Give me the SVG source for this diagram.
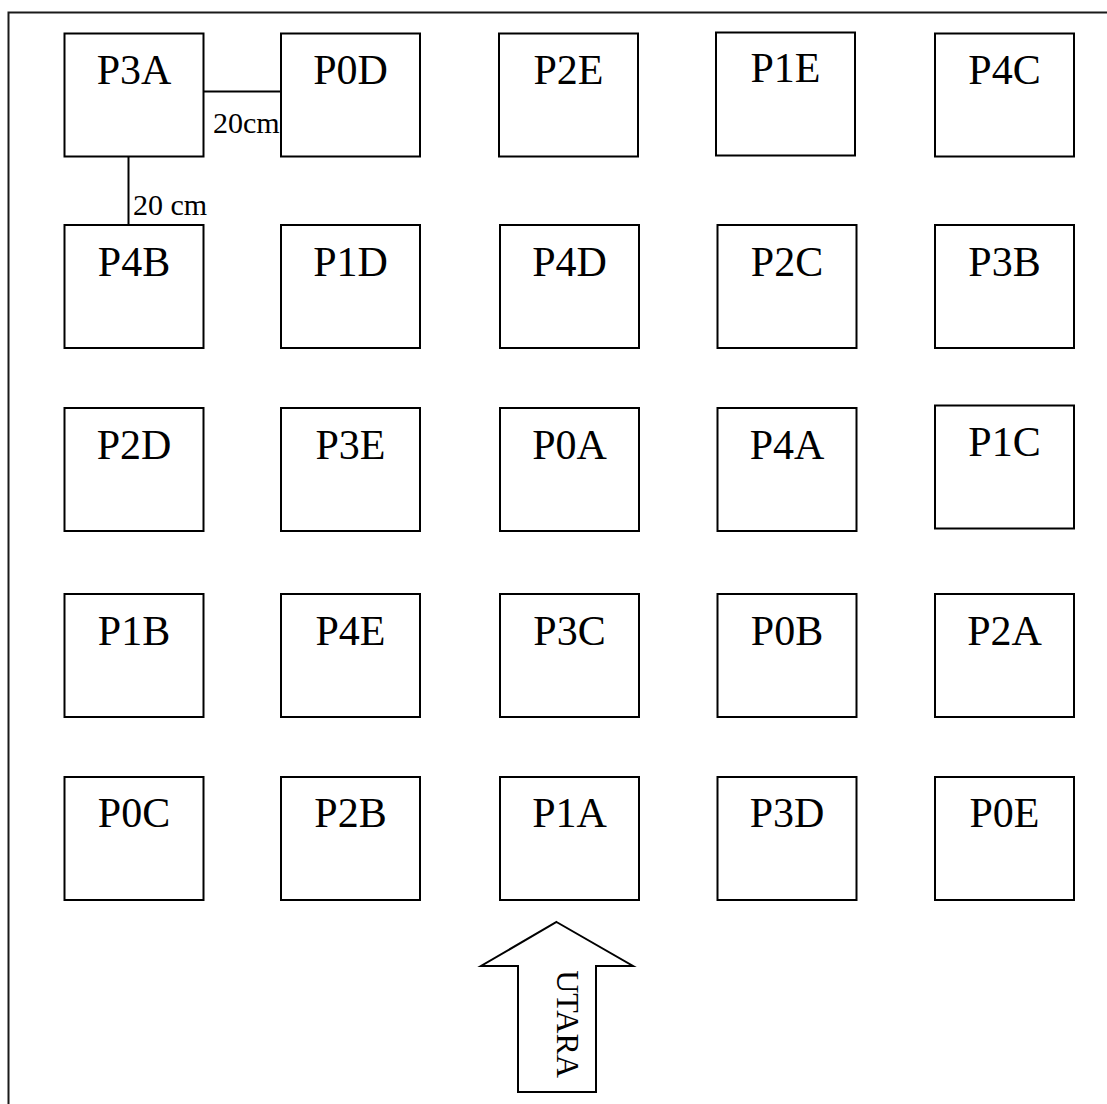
<svg xmlns="http://www.w3.org/2000/svg" width="1107" height="1104" viewBox="0 0 1107 1104">
<style>
.box{fill:#fff;stroke:#000;stroke-width:2}
.lbl{font-family:"Liberation Serif","Times New Roman",serif;font-size:42px;fill:#000;text-anchor:middle}
.dim{font-family:"Liberation Serif","Times New Roman",serif;font-size:30px;fill:#000}
.conn{stroke:#000;stroke-width:2;fill:none}
</style>
<rect x="0" y="0" width="1107" height="1104" fill="#fff"/>
<rect x="8.5" y="12.5" width="1110" height="1110" fill="none" stroke="#1a1a1a" stroke-width="2"/>
<g id="nodes">
<g id="P3A"><rect class="box" x="64.5" y="33.5" width="139" height="123"/><text class="lbl" x="134" y="83.5">P3A</text></g>
<g id="P0D"><rect class="box" x="281" y="33.5" width="139" height="123"/><text class="lbl" x="350.5" y="83.5">P0D</text></g>
<g id="P2E"><rect class="box" x="499" y="33.5" width="139" height="123"/><text class="lbl" x="568.5" y="83.5">P2E</text></g>
<g id="P1E"><rect class="box" x="716" y="32.5" width="139" height="123"/><text class="lbl" x="785.5" y="81.5">P1E</text></g>
<g id="P4C"><rect class="box" x="935" y="33.5" width="139" height="123"/><text class="lbl" x="1004.5" y="84">P4C</text></g>

<g id="P4B"><rect class="box" x="64.5" y="225" width="139" height="123"/><text class="lbl" x="134" y="276">P4B</text></g>
<g id="P1D"><rect class="box" x="281" y="225" width="139" height="123"/><text class="lbl" x="350.5" y="276">P1D</text></g>
<g id="P4D"><rect class="box" x="500" y="225" width="139" height="123"/><text class="lbl" x="569.5" y="276">P4D</text></g>
<g id="P2C"><rect class="box" x="717.5" y="225" width="139" height="123"/><text class="lbl" x="787" y="276">P2C</text></g>
<g id="P3B"><rect class="box" x="935" y="225" width="139" height="123"/><text class="lbl" x="1004.5" y="276">P3B</text></g>

<g id="P2D"><rect class="box" x="64.5" y="408" width="139" height="123"/><text class="lbl" x="134" y="459">P2D</text></g>
<g id="P3E"><rect class="box" x="281" y="408" width="139" height="123"/><text class="lbl" x="350.5" y="459">P3E</text></g>
<g id="P0A"><rect class="box" x="500" y="408" width="139" height="123"/><text class="lbl" x="569.5" y="459">P0A</text></g>
<g id="P4A"><rect class="box" x="717.5" y="408" width="139" height="123"/><text class="lbl" x="787" y="459">P4A</text></g>
<g id="P1C"><rect class="box" x="935" y="405.5" width="139" height="123"/><text class="lbl" x="1004.5" y="456">P1C</text></g>

<g id="P1B"><rect class="box" x="64.5" y="594" width="139" height="123"/><text class="lbl" x="134" y="645">P1B</text></g>
<g id="P4E"><rect class="box" x="281" y="594" width="139" height="123"/><text class="lbl" x="350.5" y="645">P4E</text></g>
<g id="P3C"><rect class="box" x="500" y="594" width="139" height="123"/><text class="lbl" x="569.5" y="645">P3C</text></g>
<g id="P0B"><rect class="box" x="717.5" y="594" width="139" height="123"/><text class="lbl" x="787" y="645">P0B</text></g>
<g id="P2A"><rect class="box" x="935" y="594" width="139" height="123"/><text class="lbl" x="1004.5" y="645">P2A</text></g>

<g id="P0C"><rect class="box" x="64.5" y="777" width="139" height="123"/><text class="lbl" x="134" y="827">P0C</text></g>
<g id="P2B"><rect class="box" x="281" y="777" width="139" height="123"/><text class="lbl" x="350.5" y="827">P2B</text></g>
<g id="P1A"><rect class="box" x="500" y="777" width="139" height="123"/><text class="lbl" x="569.5" y="827">P1A</text></g>
<g id="P3D"><rect class="box" x="717.5" y="777" width="139" height="123"/><text class="lbl" x="787" y="827">P3D</text></g>
<g id="P0E"><rect class="box" x="935" y="777" width="139" height="123"/><text class="lbl" x="1004.5" y="827">P0E</text></g>
</g>
<g id="connectors">
<line class="conn" x1="203.5" y1="91.5" x2="281" y2="91.5"/>
<line class="conn" x1="128.5" y1="156.5" x2="128.5" y2="225"/>
<text class="dim" x="213" y="133">20cm</text>
<text class="dim" x="133" y="215">20 cm</text>
</g>
<g id="north-arrow">
<polygon points="556.5,922 633,966 596,966 596,1092 518,1092 518,966 481,966" fill="#fff" stroke="#000" stroke-width="2" stroke-linejoin="miter"/>
<text class="dim" font-size="32" transform="translate(557,1024) rotate(90)" text-anchor="middle" style="font-size:32px">UTARA</text>
</g>
</svg>
